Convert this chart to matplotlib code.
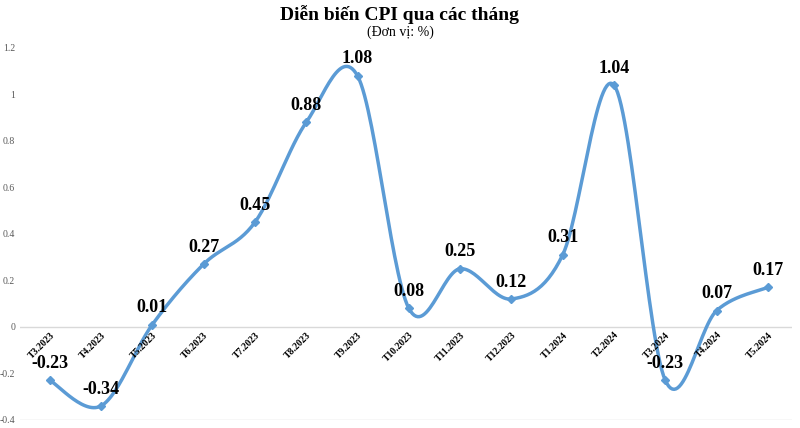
import numpy as np
import matplotlib.pyplot as plt

months = ["T3.2023", "T4.2023", "T5.2023", "T6.2023", "T7.2023", "T8.2023",
          "T9.2023", "T10.2023", "T11.2023", "T12.2023", "T1.2024", "T2.2024",
          "T3.2024", "T4.2024", "T5.2024"]
cpi = [-0.23, -0.34, 0.01, 0.27, 0.45, 0.88, 1.08, 0.08, 0.25, 0.12, 0.31,
       1.04, -0.23, 0.07, 0.17]

LINE = "#5b9bd5"

plt.rcParams["font.family"] = "Liberation Serif"


def smooth(x, y, n=30, tension=0.5):
    # Catmull-Rom style smoothing, similar to Excel's smoothed line
    x = np.asarray(x, float)
    y = np.asarray(y, float)
    px = np.concatenate([[x[0]], x, [x[-1]]])
    py = np.concatenate([[y[0]], y, [y[-1]]])
    xs, ys = [], []
    t = np.linspace(0, 1, n)
    for i in range(1, len(px) - 2):
        p0, p1, p2, p3 = [np.array([px[j], py[j]]) for j in (i - 1, i, i + 1, i + 2)]
        m1 = tension * (p2 - p0)
        m2 = tension * (p3 - p1)
        h00 = 2 * t**3 - 3 * t**2 + 1
        h10 = t**3 - 2 * t**2 + t
        h01 = -2 * t**3 + 3 * t**2
        h11 = t**3 - t**2
        pts = (np.outer(h00, p1) + np.outer(h10, m1)
               + np.outer(h01, p2) + np.outer(h11, m2))
        xs.extend(pts[:, 0])
        ys.extend(pts[:, 1])
    return xs, ys


fig = plt.figure(figsize=(8, 4.28), dpi=100)
ax = fig.add_axes([0.025, 0.019, 0.965, 0.869])

x = np.arange(len(months))
sx, sy = smooth(x, cpi)
ax.plot(sx, sy, color=LINE, lw=2.5, zorder=3)
ax.plot(x, cpi, "D", color=LINE, ms=4, zorder=4)

for xi, v in zip(x, cpi):
    ax.annotate(f"{v:g}", (xi, v), xytext=(0, 6), textcoords="offset points",
                ha="center", va="bottom", fontsize=13, fontweight="bold")

ax.axhline(0, color="#d9d9d9", lw=1, zorder=1)
ax.axhline(-0.4, color="#d9d9d9", lw=1, zorder=1)

for xi, m in zip(x, months):
    ax.text(xi, -0.015, m, rotation=45, ha="right", va="top", fontsize=7,
            fontweight="bold", rotation_mode="anchor")

ax.set_xlim(-0.58, len(months) - 0.53)
ax.set_ylim(-0.4, 1.2)
ax.set_yticks(np.arange(-0.4, 1.21, 0.2))
ax.set_yticklabels([f"{v:g}" for v in np.round(np.arange(-0.4, 1.21, 0.2), 1)])
ax.tick_params(axis="y", length=0, labelsize=7, labelcolor="#595959")
ax.set_xticks([])
for s in ax.spines.values():
    s.set_visible(False)

fig.text(0.5, 0.965, "Diễn biến CPI qua các tháng", ha="center", va="center",
         fontsize=14, fontweight="bold")
fig.text(0.5, 0.925, "(Đơn vị: %)", ha="center", va="center", fontsize=10)

fig.savefig("out.png")
